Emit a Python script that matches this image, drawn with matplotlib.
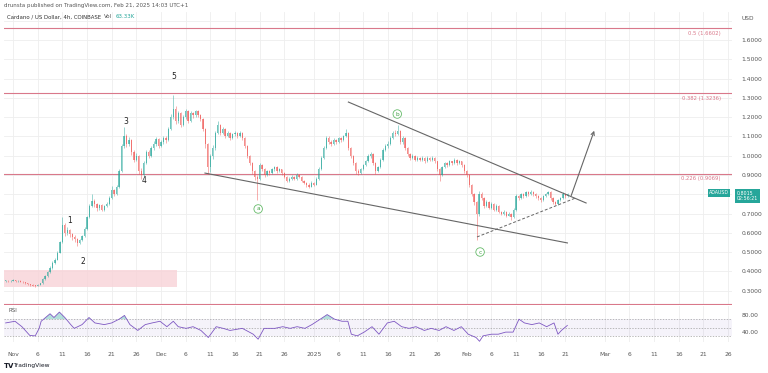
import matplotlib
matplotlib.use('Agg')
import matplotlib.pyplot as plt
import matplotlib.dates as mdates
import numpy as np
import pandas as pd

# ADA/USD 12h candles (open = previous close)
first_candle = '2024-10-30 12:00'
closes = [
    .352, .349, .351, .355, .350, .353, .347, .343, .340, .334,
    .331, .327, .326, .330, .338, .362, .375, .398, .420, .445,
    .462, .498, .553, .640, .600, .615, .592, .580, .568, .548,
    .562, .582, .620, .680, .740, .765, .748, .728, .742, .720,
    .738, .750, .780, .822, .800, .840, .920, 1.050, 1.100, 1.060,
    1.082, 1.020, .980, 1.000, .920, .900, .960, 1.020, 1.000, 1.040,
    1.060, 1.085, 1.050, 1.070, 1.090, 1.080, 1.140, 1.200, 1.240, 1.180,
    1.220, 1.160, 1.200, 1.230, 1.180, 1.220, 1.210, 1.230, 1.210, 1.190,
    1.140, 1.060, .940, 1.000, 1.040, 1.120, 1.160, 1.120, 1.140, 1.100,
    1.120, 1.090, 1.110, 1.120, 1.100, 1.120, 1.090, 1.050, 1.000, .960,
    .920, .890, .880, .950, .930, .900, .920, .910, .930, .940,
    .920, .930, .910, .890, .870, .880, .890, .880, .900, .890,
    .870, .860, .850, .840, .860, .850, .880, .930, .990, 1.040,
    1.090, 1.070, 1.060, 1.080, 1.070, 1.090, 1.080, 1.100, 1.120, 1.040,
    1.000, .960, .920, .910, .930, .950, .970, 1.000, 1.010, .960,
    .920, .940, .980, 1.030, 1.050, 1.060, 1.090, 1.120, 1.110, 1.130,
    1.070, 1.090, 1.040, 1.010, .990, 1.000, .980, .990, .980, .990,
    .970, .990, .980, .990, .970, .930, .900, .940, .960, .950,
    .970, .960, .980, .960, .970, .950, .920, .900, .850, .800,
    .760, .700, .800, .780, .740, .760, .730, .750, .720, .740,
    .710, .700, .710, .690, .700, .680, .720, .790, .780, .800,
    .790, .810, .800, .810, .800, .790, .780, .770, .790, .800,
    .810, .780, .760, .750, .770, .780, .800, .790, .8015,
]
highs = [
    .356, .354, .355, .359, .357, .356, .354, .349, .345, .342,
    .336, .333, .330, .333, .342, .368, .382, .405, .428, .452,
    .470, .505, .560, .680, .650, .632, .622, .600, .588, .572,
    .570, .590, .628, .690, .752, .800, .775, .755, .750, .748,
    .745, .758, .790, .842, .828, .850, .930, 1.060, 1.150, 1.110,
    1.095, 1.088, 1.030, 1.015, 1.005, .935, .970, 1.030, 1.028, 1.050,
    1.075, 1.095, 1.090, 1.080, 1.100, 1.100, 1.150, 1.215, 1.315, 1.255,
    1.230, 1.225, 1.210, 1.240, 1.235, 1.230, 1.228, 1.238, 1.235, 1.215,
    1.195, 1.145, 1.065, 1.010, 1.055, 1.130, 1.180, 1.165, 1.150, 1.145,
    1.130, 1.125, 1.118, 1.130, 1.125, 1.128, 1.125, 1.095, 1.055, 1.005,
    .965, .925, .900, .960, .955, .935, .928, .925, .938, .948,
    .945, .937, .933, .915, .895, .888, .898, .895, .908, .905,
    .895, .876, .866, .856, .868, .865, .888, .940, 1.000, 1.050,
    1.100, 1.100, 1.080, 1.090, 1.088, 1.098, 1.095, 1.108, 1.140, 1.125,
    1.045, 1.005, .965, .930, .938, .958, .978, 1.010, 1.020, 1.015,
    .965, .948, .988, 1.040, 1.062, 1.075, 1.100, 1.130, 1.135, 1.160,
    1.135, 1.100, 1.095, 1.045, 1.015, 1.008, 1.005, .998, .995, .998,
    .995, .998, .995, .998, .995, .975, .935, .948, .968, .965,
    .978, .975, .988, .985, .978, .975, .955, .925, .905, .855,
    .805, .765, .815, .810, .785, .770, .765, .758, .755, .748,
    .745, .715, .718, .715, .708, .705, .728, .800, .798, .808,
    .805, .818, .815, .822, .815, .805, .795, .785, .798, .808,
    .818, .815, .785, .765, .778, .788, .810, .808, .808,
]
lows = [
    .348, .346, .347, .350, .347, .348, .344, .340, .336, .331,
    .327, .323, .321, .324, .328, .336, .358, .372, .394, .415,
    .440, .458, .495, .550, .585, .590, .580, .565, .552, .530,
    .540, .558, .578, .615, .675, .735, .735, .715, .720, .712,
    .715, .732, .745, .775, .790, .795, .835, .915, 1.040, 1.045,
    1.050, 1.005, .965, .970, .905, .880, .895, .955, .990, .995,
    1.030, 1.050, 1.040, 1.045, 1.060, 1.065, 1.075, 1.135, 1.190, 1.165,
    1.170, 1.150, 1.155, 1.190, 1.170, 1.175, 1.195, 1.200, 1.200, 1.180,
    1.130, 1.040, .905, .915, .985, 1.030, 1.110, 1.105, 1.110, 1.090,
    1.095, 1.080, 1.085, 1.100, 1.090, 1.095, 1.080, 1.040, .990, .950,
    .905, .875, .770, .875, .920, .890, .895, .900, .905, .922,
    .912, .915, .902, .882, .862, .865, .874, .872, .876, .882,
    .862, .852, .840, .832, .836, .842, .846, .875, .925, .985,
    1.035, 1.060, 1.050, 1.055, 1.060, 1.065, 1.070, 1.075, 1.095, 1.030,
    .990, .950, .905, .900, .905, .925, .945, .965, .990, .950,
    .905, .915, .935, .975, 1.025, 1.040, 1.055, 1.085, 1.100, 1.105,
    1.060, 1.060, 1.030, 1.000, .980, .982, .972, .975, .972, .975,
    .962, .965, .972, .975, .962, .920, .870, .895, .935, .942,
    .945, .952, .955, .952, .955, .942, .912, .890, .840, .790,
    .745, .565, .690, .770, .730, .735, .722, .725, .712, .715,
    .702, .692, .695, .682, .685, .668, .675, .715, .770, .775,
    .782, .785, .792, .795, .792, .782, .772, .762, .765, .785,
    .795, .772, .752, .742, .745, .765, .775, .782, .785,
]

# RSI (days after Nov 1 2024, value)
rsi_days = [-1.5, 0.4, 1.8, 3.4, 4.5, 5.3, 5.7, 7.5, 8.3, 9.4, 10.5, 11.7, 12.4, 14.0,
            15.4, 16.6, 18.5, 20.0, 21.5, 22.6, 23.7, 25.3, 26.8, 28.2, 29.8, 31.2,
            32.5, 33.5, 35.1, 36.5, 38.1, 39.6, 41.2, 42.6, 44.0, 46.5, 48.7, 49.7,
            50.9, 53.1, 54.7, 56.2, 57.6, 59.2, 60.6, 62.3, 63.7, 65.2, 66.7, 67.9,
            68.6, 69.8, 71.2, 72.8, 74.2, 75.9, 77.3, 78.8, 80.3, 81.7, 83.4, 84.8,
            86.4, 87.8, 89.4, 90.9, 92.3, 93.9, 94.6, 95.3, 97.0, 98.4, 99.9, 101.4,
            102.6, 103.7, 105.2, 106.7, 108.2, 109.7, 110.5, 111.2, 112.4]
rsi_vals = [61, 65, 52, 31, 30, 48, 65, 83, 74, 87, 74, 57, 48, 57,
            74, 61, 57, 61, 70, 79, 57, 43, 57, 61, 65, 52,
            65, 52, 48, 52, 43, 26, 52, 48, 43, 48, 34, 22,
            48, 48, 52, 48, 52, 48, 57, 70, 81, 70, 65, 65,
            34, 30, 39, 52, 34, 61, 65, 52, 48, 52, 43, 48,
            43, 52, 43, 52, 34, 26, 17, 30, 34, 34, 39, 39,
            70, 61, 57, 61, 52, 61, 34, 43, 55]

# annotations
fib_levels = [1.6602, 1.3236, 0.9069, 0.232]
fib_labels = ['0.5 (1.6602)', '0.382 (1.3236)', '0.226 (0.9069)', '']
wave_labels = ['1', '2', '3', '4', '5']
wave_times = ['2024-11-12 10:00', '2024-11-15 05:00', '2024-11-23 22:00',
              '2024-11-27 14:00', '2024-12-03 12:00']
wave_prices = [0.662, 0.454, 1.175, 0.869, 1.408]
abc_labels = ['a', 'b', 'c']
abc_times = ['2024-12-20 17:00', '2025-01-17 22:00', '2025-02-03 17:00']
abc_prices = [0.724, 1.216, 0.501]
upper_line = (['2025-01-08 00:00', '2025-02-25 05:00'], [1.278, 0.755])
lower_line = (['2024-12-09 22:00', '2025-02-21 10:00'], [0.910, 0.548])
dashed_line = (['2025-02-03 02:00', '2025-02-23 00:00'], [0.579, 0.780])
arrow_line = (['2025-02-22 00:00', '2025-02-27 01:00'], [0.780, 1.143])
zone_times = ['2024-10-30 04:00', '2024-12-04 07:00']
zone_prices = [0.320, 0.408]

price_ticks = [0.3, 0.4, 0.5, 0.6, 0.7, 0.8, 0.9, 1.0, 1.1, 1.2, 1.3, 1.4, 1.5, 1.6]
tick_dates = ['2024-11-01', '2024-11-06', '2024-11-11', '2024-11-16', '2024-11-21', '2024-11-26',
              '2024-12-01', '2024-12-06', '2024-12-11', '2024-12-16', '2024-12-21', '2024-12-26',
              '2025-01-01', '2025-01-06', '2025-01-11', '2025-01-16', '2025-01-21', '2025-01-26',
              '2025-02-01', '2025-02-06', '2025-02-11', '2025-02-16', '2025-02-21',
              '2025-03-01', '2025-03-06', '2025-03-11', '2025-03-16', '2025-03-21', '2025-03-26']
tick_labels = ['Nov', '6', '11', '16', '21', '26', 'Dec', '6', '11', '16', '21', '26',
               '2025', '6', '11', '16', '21', '26', 'Feb', '6', '11', '16', '21',
               'Mar', '6', '11', '16', '21', '26']
last_price = 0.8015
countdown = '02:56:21'

plt.rcParams['font.family'] = ['DejaVu Sans']

GREEN = '#26a69a'
RED = '#ef5350'
FIB = '#d9788a'
GRID = '#eeeeee'
TXT = '#555555'

W, H = 768, 373
fig = plt.figure(figsize=(W / 100, H / 100), dpi=100)
fig.patch.set_facecolor('white')


def pane(x0, y0, x1, y1):
    # axes placed by pixel box
    return fig.add_axes([x0 / W, 1 - y1 / H, (x1 - x0) / W, (y1 - y0) / H])


ax = pane(4, 12, 732, 305)
rax = pane(4, 306, 732, 342)

d2n = lambda s: mdates.date2num(pd.to_datetime(s))
xlim = (d2n('2024-10-30 04:00'), d2n('2025-03-26 19:00'))
tick_x = d2n(tick_dates)

for a in (ax, rax):
    a.set_xlim(*xlim)
    for s in a.spines.values():
        s.set_visible(False)
    for tx in tick_x:
        a.axvline(tx, color=GRID, lw=0.6, zorder=0)
    a.tick_params(length=0, labelsize=4.3, labelcolor=TXT)

# ---- price pane
ax.set_ylim(0.2264, 1.7446)
for p in price_ticks + [1.7]:
    ax.axhline(p, color=GRID, lw=0.6, zorder=0)
ax.yaxis.tick_right()
ax.set_yticks(price_ticks)
# the last-price tag sits over the 0.8000 label, so that one stays hidden
ax.set_yticklabels(['' if abs(p - last_price) < 0.03 else '%.4f' % p for p in price_ticks])
ax.tick_params(axis='y', pad=7)
ax.set_xticks([])

# demand zone
ax.fill_between(d2n(zone_times), zone_prices[0], zone_prices[1], color='#f8d3d8', alpha=0.8, lw=0, zorder=1)

# fib levels
for lvl, lab in zip(fib_levels, fib_labels):
    ax.axhline(lvl, color=FIB, lw=0.8, zorder=2)
    if lab:
        ax.text(d2n('2025-03-24 12:00'), lvl - 0.012, lab, ha='right', va='top',
                fontsize=3.8, color=FIB)

# candles
t = d2n(pd.date_range(first_candle, periods=len(closes), freq='12h'))
c = np.array(closes)
o = np.array([closes[0]] + closes[:-1])
cols = np.where(c >= o, GREEN, RED)
ax.vlines(t, lows, highs, colors=cols, lw=0.5, alpha=0.65, zorder=3)
ax.bar(t, np.maximum(np.abs(c - o), 0.002), bottom=np.minimum(o, c), width=0.26,
       color=cols, lw=0, alpha=0.65, zorder=3)

# trend lines
for xs, ys in (upper_line, lower_line):
    ax.plot(d2n(xs), ys, color='#666666', lw=0.8, zorder=4)
ax.plot(d2n(dashed_line[0]), dashed_line[1], color='#666666', lw=0.7, ls=(0, (3, 2)), zorder=4)
ax.annotate('', xy=(d2n(arrow_line[0][1]), arrow_line[1][1]),
            xytext=(d2n(arrow_line[0][0]), arrow_line[1][0]),
            arrowprops=dict(arrowstyle='->', color='#666666', lw=0.8, mutation_scale=6), zorder=4)

# wave counts
for lab, ts, pr in zip(wave_labels, wave_times, wave_prices):
    ax.text(d2n(ts), pr, lab, ha='center', va='center', fontsize=5.5, color='#222222', zorder=5)
for lab, ts, pr in zip(abc_labels, abc_times, abc_prices):
    ax.text(d2n(ts), pr, lab, ha='center', va='center', fontsize=4.2, color='#43a047', zorder=5,
            bbox=dict(boxstyle='circle,pad=0.3', fc='white', ec='#66bb6a', lw=0.6))

# ---- RSI pane
rax.set_ylim(15.3, 101.6)
rt = d2n(pd.Timestamp('2024-11-01')) + np.array(rsi_days)
rv = np.array(rsi_vals, dtype=float)
rax.fill_between(xlim, 30, 70, color='#7e57c2', alpha=0.07, lw=0)
for lvl in (70, 50, 30):
    rax.axhline(lvl, color='#a0a0a0', lw=0.5, ls=(0, (2, 2)))
rax.plot(rt, rv, color='#7e57c2', lw=0.6, zorder=3)
rax.fill_between(rt, 70, rv, where=rv > 70, interpolate=True, color=GREEN, alpha=0.35, lw=0)
rax.yaxis.tick_right()
rax.set_yticks([80, 40])
rax.set_yticklabels(['80.00', '40.00'])
rax.tick_params(axis='y', pad=7)
rax.set_xticks(tick_x)
rax.set_xticklabels(tick_labels)
rax.tick_params(axis='x', pad=7)
rax.text(0.006, 0.82, 'RSI', transform=rax.transAxes, fontsize=4, color=TXT)

# ---- header / labels
fig.text(4 / W, 1 - 6 / H, 'drunsta published on TradingView.com, Feb 21, 2025 14:03 UTC+1',
         fontsize=4, color=TXT, va='center')

# legend row: place each piece right after the previous one
renderer = fig.canvas.get_renderer()
x_px = 7
for piece, col in (('Cardano / US Dollar, 4h, COINBASE', '#333333'), ('Vol', TXT), ('63.33K', GREEN)):
    tt = fig.text(x_px / W, 1 - 17 / H, piece, fontsize=3.9, color=col, va='center')
    x_px += tt.get_window_extent(renderer).width + 3

fig.text(741 / W, 1 - 19 / H, 'USD', fontsize=4.2, color=TXT, va='center')
fig.text(4 / W, 1 - 366 / H, 'TV', fontsize=5, color='#131722', va='center', fontweight='bold')
fig.text(13 / W, 1 - 366 / H, 'TradingView', fontsize=4.3, color='#131722', va='center')

# last price tags
fig.text(729 / W, 1 - 193 / H, 'ADAUSD', fontsize=3.4, color='white', ha='right', va='center',
         bbox=dict(boxstyle='square,pad=0.3', fc=GREEN, ec='none'))
fig.text(737 / W, 1 - 196 / H, '%.4f\n%s' % (last_price, countdown), fontsize=3.4, color='white',
         ha='left', va='center', linespacing=1.1,
         bbox=dict(boxstyle='square,pad=0.35', fc=GREEN, ec='none'))

fig.savefig('out.png', dpi=100)
